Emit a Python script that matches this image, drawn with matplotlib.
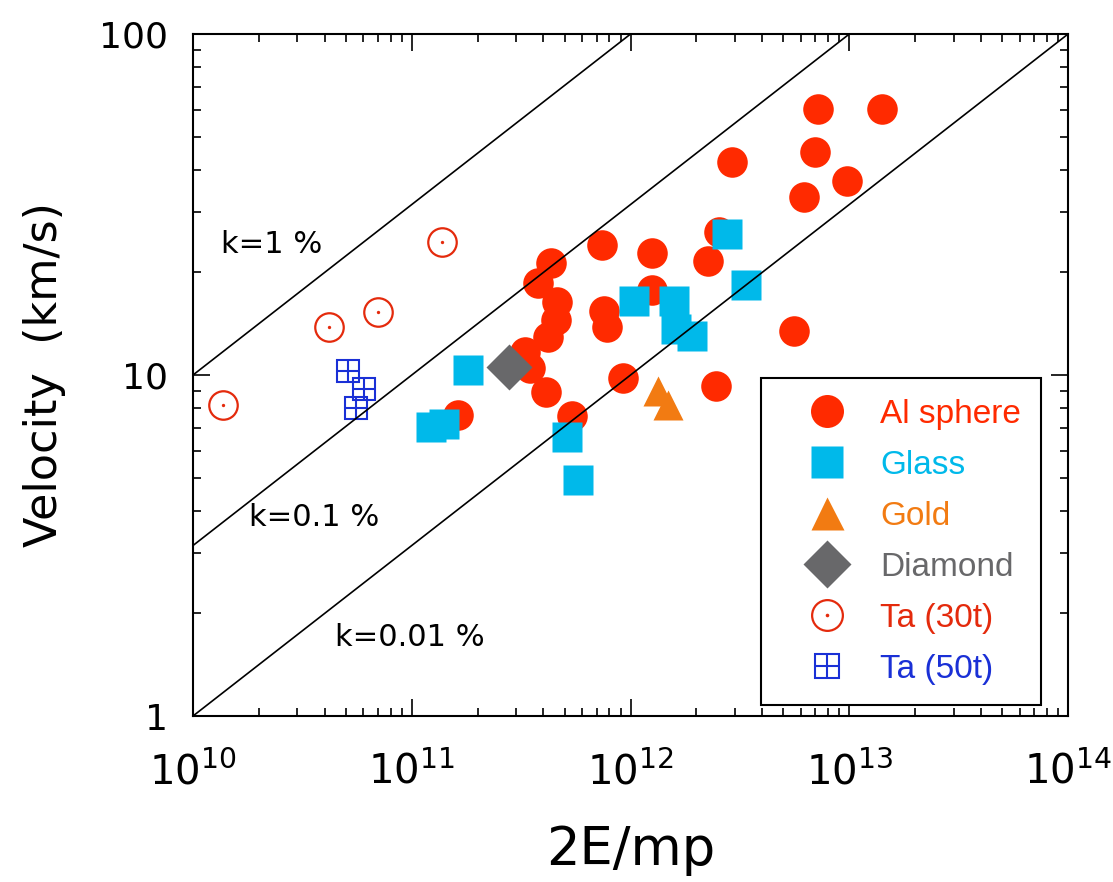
import matplotlib
matplotlib.use("Agg")
import matplotlib.pyplot as plt
import numpy as np
from matplotlib.ticker import LogLocator, NullFormatter

plt.rcParams['font.family'] = ['DejaVu Sans']

# ---- data ----
# Al sphere
al_x = [7.18e12, 1.41e13, 6.98e12, 2.92e12, 9.78e12, 6.24e12, 2.54e12, 2.27e12,
        7.39e11, 1.26e12, 1.26e12, 5.57e12, 7.60e11, 7.79e11, 9.22e11, 2.46e12,
        5.42e11, 1.62e11, 4.34e11, 3.77e11, 4.60e11, 4.57e11, 4.20e11, 3.30e11,
        3.47e11, 4.11e11]
al_v = [60.3, 60.3, 45.2, 42.1, 37.1, 33.3, 26.3, 21.6,
        24.1, 22.8, 17.7, 13.5, 15.4, 13.8, 9.79, 9.28,
        7.59, 7.61, 21.3, 18.6, 16.4, 14.5, 12.9, 11.7,
        10.5, 8.93]
# Glass
glass_x = [1.225e11, 1.405e11, 1.81e11, 5.13e11, 5.76e11, 1.04e12, 1.58e12,
           1.62e12, 1.91e12, 3.38e12, 2.76e12]
glass_v = [7.05, 7.19, 10.35, 6.59, 4.93, 16.5, 16.5, 13.6, 13.0, 18.4, 25.9]
# Gold
gold_x = [1.33e12, 1.49e12]
gold_v = [9.0, 8.19]
# Diamond
diamond_x = [2.77e11]
diamond_v = [10.55]
# Ta (30t)
ta30_x = [1.37e10, 4.2e10, 7.0e10, 1.37e11]
ta30_v = [8.18, 13.8, 15.3, 24.5]
# Ta (50t)
ta50_x = [5.13e10, 6.05e10, 5.56e10]
ta50_v = [10.3, 9.11, 8.03]

# conversion efficiency lines, v = sqrt(k * 2E/mp)
k_percent = [1, 0.1, 0.01]
k_labels = ['k=1 %', 'k=0.1 %', 'k=0.01 %']
k_label_pos = [(1.34e10, 22.8), (1.81e10, 3.60), (4.46e10, 1.60)]

x_ticks = [1e10, 1e11, 1e12, 1e13, 1e14]
x_ticklabels = [r'$\mathregular{10^{%d}}$' % e for e in [10, 11, 12, 13, 14]]
y_ticks = [1, 10, 100]
y_ticklabels = ['1', '10', '100']

c_al = '#ff2a00'
c_glass = '#00b9ea'
c_gold = '#f27b12'
c_dia = '#68686a'
c_ta30 = '#e42a0c'
c_ta50 = '#1a30d6'

fig = plt.figure(figsize=(11.13, 8.82), dpi=100)
ax = fig.add_axes([0.1734, 0.1882, 0.7862, 0.7732])
ax.set_xscale('log')
ax.set_yscale('log')

h_al, = ax.plot(al_x, al_v, 'o', ms=22, color=c_al, mec='none', ls='none', zorder=3)
h_gl, = ax.plot(glass_x, glass_v, 's', ms=21.5, color=c_glass, mec='none', ls='none', zorder=4)
h_au, = ax.plot(gold_x, gold_v, '^', ms=22, color=c_gold, mec='none', ls='none', zorder=5)
h_di, = ax.plot(diamond_x, diamond_v, 'D', ms=23, color=c_dia, mec='none', ls='none', zorder=5)
h_t3a, = ax.plot(ta30_x, ta30_v, 'o', ms=20.5, mfc='none', mec=c_ta30, mew=1.6, ls='none', zorder=5)
h_t3b, = ax.plot(ta30_x, ta30_v, 'o', ms=2.4, color=c_ta30, mec='none', ls='none', zorder=5)
h_t5a, = ax.plot(ta50_x, ta50_v, 's', ms=16.5, mfc='none', mec=c_ta50, mew=1.5, ls='none', zorder=5)
h_t5b, = ax.plot(ta50_x, ta50_v, '+', ms=16.5, mec=c_ta50, mew=1.5, ls='none', zorder=5)

xl = np.array([x_ticks[0], x_ticks[-1]])
for k in k_percent:
    ax.plot(xl, np.sqrt(k / 100 * xl) / 1000, color='black', lw=1.2, zorder=6)
for txt, (tx, ty) in zip(k_labels, k_label_pos):
    ax.text(tx, ty, txt, fontsize=22, ha='left', va='baseline', zorder=7)

ax.set_xlim(1e10, 1e14)
ax.set_ylim(1, 100)
ax.set_xticks(x_ticks, x_ticklabels)
ax.set_yticks(y_ticks, y_ticklabels)
ax.xaxis.set_minor_locator(LogLocator(base=10, subs=np.arange(2, 10), numticks=20))
ax.yaxis.set_minor_locator(LogLocator(base=10, subs=np.arange(2, 10), numticks=20))
ax.xaxis.set_minor_formatter(NullFormatter())
ax.yaxis.set_minor_formatter(NullFormatter())
ax.tick_params(which='both', direction='in', top=True, right=True, width=1.2)
ax.tick_params(which='major', length=12)
ax.tick_params(which='minor', length=6)
ax.tick_params(axis='x', which='major', labelsize=29, pad=26)
ax.tick_params(axis='y', which='major', labelsize=26, pad=18)
for s in ax.spines.values():
    s.set_linewidth(1.5)

ax.set_xlabel('2E/mp', fontsize=38, labelpad=22)
ax.set_ylabel('Velocity  (km/s)', fontsize=32, labelpad=24)

leg = ax.legend([h_al, h_gl, h_au, h_di, (h_t3a, h_t3b), (h_t5a, h_t5b)],
                ['Al sphere', 'Glass', 'Gold', 'Diamond', 'Ta (30t)', 'Ta (50t)'],
                loc='upper left', bbox_to_anchor=(0.649, 0.4956), borderaxespad=0,
                prop={'family': ['Liberation Sans', 'DejaVu Sans'], 'size': 24},
                frameon=True, fancybox=False, framealpha=1,
                edgecolor='black', borderpad=0.62, handlelength=2.7,
                handletextpad=0.25, labelspacing=0.6, numpoints=1,
                markerscale=1.08)
leg.get_frame().set_linewidth(1.5)
for t, c in zip(leg.get_texts(), [c_al, c_glass, c_gold, c_dia, c_ta30, c_ta50]):
    t.set_color(c)
leg.set_zorder(8)

fig.savefig('out.png', dpi=100)
